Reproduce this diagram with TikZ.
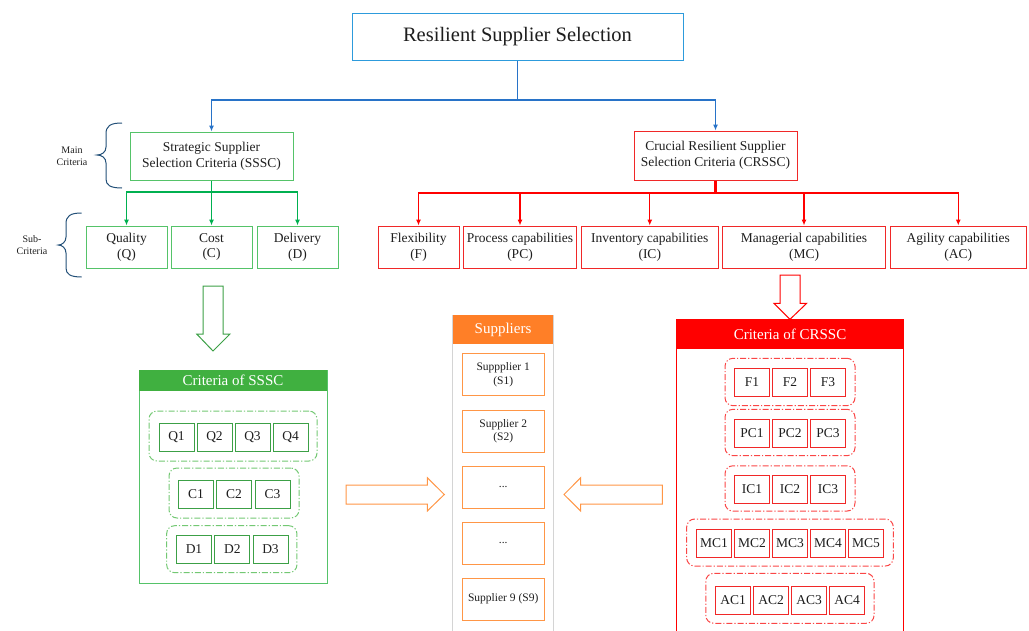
\documentclass[tikz,border=0pt]{standalone}
\usepackage{fontspec}
\setmainfont{Liberation Serif}
\usetikzlibrary{arrows.meta}
\definecolor{txt}{RGB}{30,30,30}
\definecolor{bluebox}{RGB}{45,155,220}
\definecolor{blueline}{RGB}{40,115,200}
\definecolor{gline}{RGB}{0,176,80}
\definecolor{gbox}{RGB}{85,195,105}
\definecolor{ghead}{RGB}{64,176,64}
\definecolor{gitem}{RGB}{60,160,70}
\definecolor{ggroup}{RGB}{115,200,115}
\definecolor{rline}{RGB}{255,0,0}
\definecolor{rbox}{RGB}{240,40,40}
\definecolor{rgroup}{RGB}{250,70,70}
\definecolor{ohead}{RGB}{255,127,39}
\definecolor{obox}{RGB}{255,150,70}
\definecolor{colgray}{RGB}{212,212,212}
\definecolor{bracecol}{RGB}{35,80,120}
\begin{document}
\begin{tikzpicture}[x=1pt,y=-1pt,
  every node/.style={text=txt},
  box/.style={draw, line width=1pt, inner sep=0pt, align=center,
    font=\fontsize{13.5}{15.8}\selectfont},
  greenbox/.style={box, draw=gbox},
  redbox/.style={box, draw=rbox},
  itembox/.style={draw, line width=1pt, inner sep=0pt, minimum width=35pt,
    minimum height=28pt, font=\fontsize{13.5}{15}\selectfont},
  gitembox/.style={itembox, draw=gitem},
  ritembox/.style={itembox, draw=rbox},
  groupbox/.style={draw, line width=1pt, rounded corners=8pt, inner sep=0pt,
    dash pattern=on 6pt off 2pt on 1.2pt off 2pt},
  suppbox/.style={draw=obox, line width=1pt, inner sep=0pt, align=center,
    minimum width=81.7pt, minimum height=42pt, font=\fontsize{11.5}{13.7}\selectfont},
  headbox/.style={inner sep=0pt, text=white, font=\fontsize{15}{17}\selectfont},
  conn/.style={line width=1.1pt, -{Latex[length=6pt,width=5pt]}},
  bigarrow/.style={line width=1pt, fill=white, line join=miter},
  smalltext/.style={align=center, font=\fontsize{10}{12}\selectfont}
]
\useasboundingbox (0,0) rectangle (1029,630);
\clip (0,0) rectangle (1029,630);

% ---- top ----
\node[box, draw=bluebox, minimum width=331pt, minimum height=47pt,
  font=\fontsize{20.5}{24}\selectfont] (top) at (517.5,36.5) {Resilient Supplier Selection};
\node[greenbox, minimum width=163pt, minimum height=48pt] (sssc) at (211.5,156)
  {Strategic Supplier\\Selection Criteria (SSSC)};
\node[redbox, minimum width=163pt, minimum height=49pt] (crssc) at (715.5,155.5)
  {Crucial Resilient Supplier\\Selection Criteria (CRSSC)};

\coordinate (bj) at (517.5,100);
\draw[blueline, line width=1.1pt] (top.south) -- (bj);
\draw[blueline, conn] (bj) -| (sssc.north);
\draw[blueline, conn] (bj) -| (crssc.north);

% ---- green sub criteria ----
\node[greenbox, minimum width=81pt, minimum height=42pt] (q) at (126.5,247) {Quality\\(Q)};
\node[greenbox, minimum width=81pt, minimum height=42pt] (c) at (211.5,247) {Cost\\(C)};
\node[greenbox, minimum width=81pt, minimum height=42pt] (d) at (297.5,247) {Delivery\\(D)};
\coordinate (gj) at (211.5,192);
\draw[gline, line width=1.1pt] (sssc.south) -- (gj);
\draw[gline, conn] (gj) -| (q.north);
\draw[gline, conn] (gj) -- (c.north);
\draw[gline, conn] (gj) -| (d.north);

% ---- red sub criteria ----
\node[redbox, minimum width=81pt, minimum height=42pt] (f) at (418.5,247) {Flexibility\\(F)};
\node[redbox, minimum width=113pt, minimum height=42pt] (pc) at (520,247) {Process capabilities\\(PC)};
\node[redbox, minimum width=136.5pt, minimum height=42pt] (ic) at (649.75,247) {Inventory capabilities\\(IC)};
\node[redbox, minimum width=163pt, minimum height=42pt] (mc) at (804,247) {Managerial capabilities\\(MC)};
\node[redbox, minimum width=135.5pt, minimum height=42pt] (ac) at (958.25,247) {Agility capabilities\\(AC)};
\coordinate (rj) at (715.5,193);
\draw[rline, line width=2.2pt] (crssc.south) -- (rj);
\draw[rline, conn] (rj) -| (f.north);
\draw[rline, conn] (rj) -| (pc.north);
\draw[rline, conn] (rj) -| (ic.north);
\draw[rline, conn] (rj) -| (mc.north);
\draw[rline, conn] (rj) -| (ac.north);

% ---- braces ----
\draw[bracecol, line width=1pt] (122,123) .. controls (110,123) and (106,126) .. (106,134)
  -- (106,147) .. controls (106,152) and (102,155) .. (97,155)
  .. controls (102,155) and (106,158) .. (106,163) -- (106,179)
  .. controls (106,185) and (110,188) .. (122,188);
\node[smalltext] (mainlab) at (72,156.5) {Main\\Criteria};
\draw[bracecol, line width=1pt] (81.7,213) .. controls (70,213) and (66,216) .. (66,224)
  -- (66,237) .. controls (66,242) and (62,245) .. (58.3,245)
  .. controls (62,245) and (66,248) .. (66,253) -- (66,268)
  .. controls (66,274) and (70,277) .. (81.7,277);
\node[smalltext] (sublab) at (32,244.8) {Sub-\\Criteria};

% ---- big hollow arrows ----
\draw[gitem, bigarrow] (203,286) -- (223,286) -- (223,334) -- (230,334) -- (213,351)
  -- (196.7,334) -- (203,334) -- cycle;
\draw[rline, bigarrow] (780,275) -- (800,275) -- (800,303.3) -- (806.7,303.3) -- (790,319.3)
  -- (774,303.3) -- (780,303.3) -- cycle;
\draw[obox, bigarrow] (346,485) -- (427.3,485) -- (427.3,477.7) -- (444.3,494.5)
  -- (427.3,511) -- (427.3,504) -- (346,504) -- cycle;
\draw[obox, bigarrow] (662.3,485) -- (580.7,485) -- (580.7,477.7) -- (564,494.5)
  -- (580.7,511) -- (580.7,504) -- (662.3,504) -- cycle;

% ---- Criteria of SSSC ----
\node[draw=gbox, line width=1pt, minimum width=188pt, minimum height=213pt, inner sep=0pt]
  (gcont) at (233,476.5) {};
\node[headbox, fill=ghead, minimum width=188pt, minimum height=21pt] (ghd) at (233,380.5)
  {Criteria of SSSC};
\node[groupbox, draw=ggroup, minimum width=168pt, minimum height=50pt] (gq) at (233,436) {};
\node[groupbox, draw=ggroup, minimum width=130pt, minimum height=50pt] (gc) at (234,493) {};
\node[groupbox, draw=ggroup, minimum width=130.3pt, minimum height=47pt] (gd) at (231.8,549.2) {};
\node[gitembox] (q1) at (176.5,437) {Q1};
\node[gitembox] (q2) at (214.5,437) {Q2};
\node[gitembox] (q3) at (252.5,437) {Q3};
\node[gitembox] (q4) at (290.5,437) {Q4};
\node[gitembox] (c1) at (196,494) {C1};
\node[gitembox] (c2) at (234,494) {C2};
\node[gitembox] (c3) at (272.5,494) {C3};
\node[gitembox] (d1) at (194,549.4) {D1};
\node[gitembox] (d2) at (232.3,549.4) {D2};
\node[gitembox] (d3) at (270.5,549.4) {D3};

% ---- Suppliers ----
\node[draw=colgray, line width=1pt, minimum width=100.6pt, minimum height=330pt, inner sep=0pt,
  anchor=north] (scol) at (503,315) {};
\node[headbox, fill=ohead, minimum width=100.6pt, minimum height=29.3pt] (shd) at (503,329.65)
  {Suppliers};
\node[suppbox] (s1) at (503.2,374.7) {Suppplier 1\\(S1)};
\node[suppbox] (s2) at (503.2,431.2) {Supplier 2\\(S2)};
\node[suppbox] (s3) at (503.2,487.2) {...};
\node[suppbox] (s4) at (503.2,543.2) {...};
\node[suppbox] (s9) at (503.2,599.2) {Supplier 9 (S9)};

% ---- Criteria of CRSSC ----
\node[draw=rline, line width=1.2pt, minimum width=226.6pt, minimum height=330pt, inner sep=0pt,
  anchor=north] (rcont) at (790,319.3) {};
\node[headbox, fill=rline, minimum width=226.6pt, minimum height=30pt] (rhd) at (790,334.3)
  {Criteria of CRSSC};
\node[groupbox, draw=rgroup, minimum width=130pt, minimum height=47.4pt] (rf) at (790,382) {};
\node[groupbox, draw=rgroup, minimum width=130pt, minimum height=46.4pt] (rpc) at (790,432.5) {};
\node[groupbox, draw=rgroup, minimum width=130pt, minimum height=45.3pt] (ric) at (790,488.4) {};
\node[groupbox, draw=rgroup, minimum width=206.6pt, minimum height=47pt] (rmc) at (790,542.5) {};
\node[groupbox, draw=rgroup, minimum width=168.3pt, minimum height=50pt] (rac) at (789.9,598.3) {};
\node[ritembox] (f1) at (752,382.2) {F1};
\node[ritembox] (f2) at (790,382.2) {F2};
\node[ritembox] (f3) at (828,382.2) {F3};
\node[ritembox] (pc1) at (752,433) {PC1};
\node[ritembox] (pc2) at (790,433) {PC2};
\node[ritembox] (pc3) at (828,433) {PC3};
\node[ritembox] (ic1) at (752,489.5) {IC1};
\node[ritembox] (ic2) at (790,489.5) {IC2};
\node[ritembox] (ic3) at (828,489.5) {IC3};
\node[ritembox] (mc1) at (714,543) {MC1};
\node[ritembox] (mc2) at (752,543) {MC2};
\node[ritembox] (mc3) at (790,543) {MC3};
\node[ritembox] (mc4) at (828,543) {MC4};
\node[ritembox] (mc5) at (866,543) {MC5};
\node[ritembox] (ac1) at (733,600.5) {AC1};
\node[ritembox] (ac2) at (771,600.5) {AC2};
\node[ritembox] (ac3) at (809,600.5) {AC3};
\node[ritembox] (ac4) at (847,600.5) {AC4};
\end{tikzpicture}
\end{document}
